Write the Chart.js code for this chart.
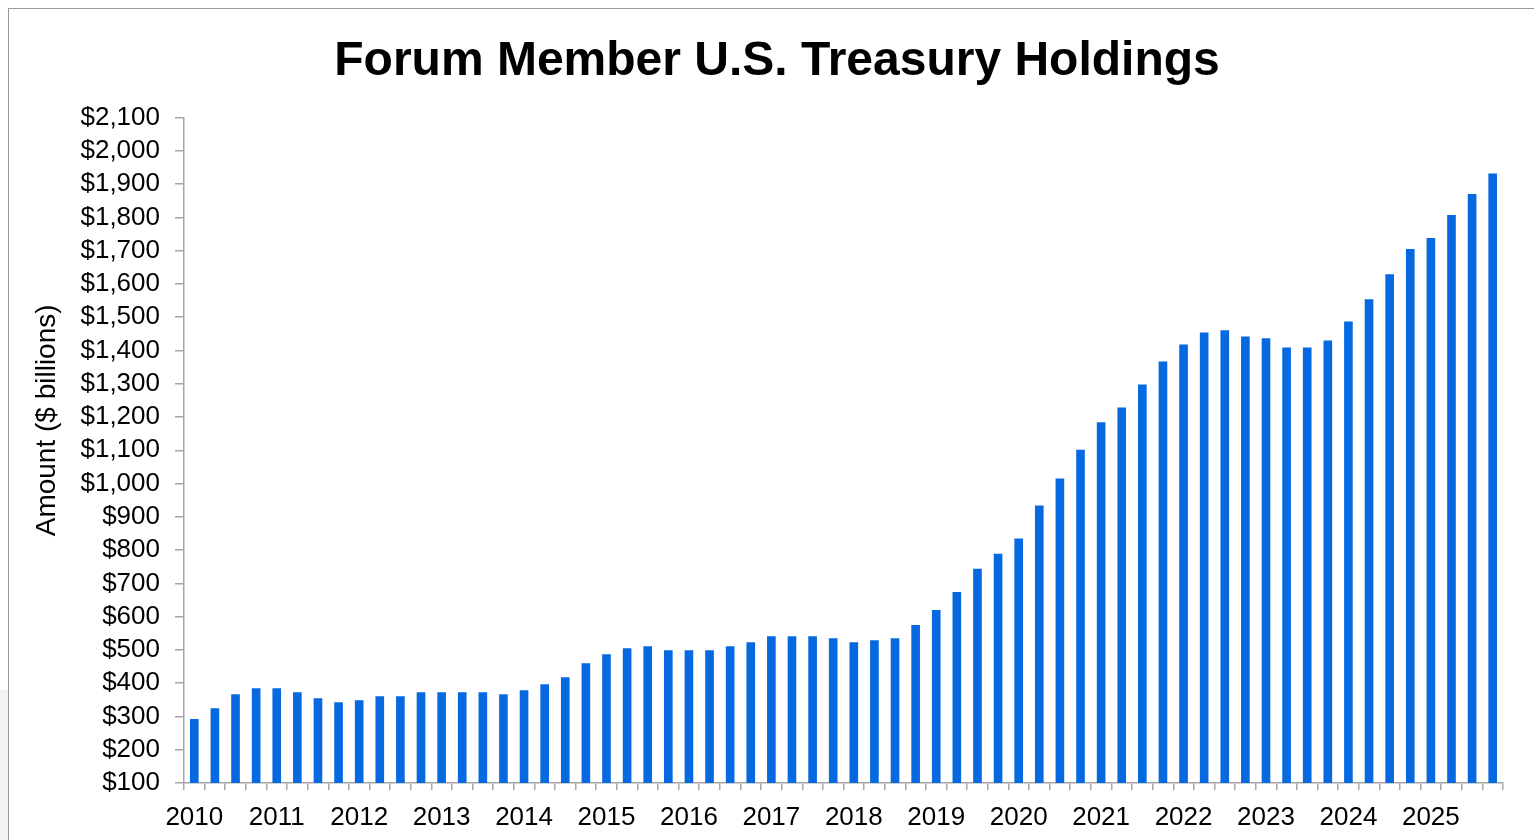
<!DOCTYPE html>
<html><head><meta charset="utf-8">
<script src="https://cdn.jsdelivr.net/npm/chart.js@4.4.1/dist/chart.umd.min.js"></script>
<style>
html,body{margin:0;padding:0;background:#fff;}
#wrap{position:relative;width:1534px;height:840px;overflow:hidden;}
#frame{position:absolute;left:8px;top:8px;width:1600px;height:900px;border-left:1.5px solid #9a9a9a;border-top:1.5px solid #9a9a9a;pointer-events:none;}
#shade{position:absolute;left:0;top:690px;width:8px;height:150px;background:#f1f2f4;}
canvas{position:absolute;left:0;top:0;}
</style></head><body>
<div id="wrap"><div id="shade"></div><canvas id="c" width="1534" height="840"></canvas><div id="frame"></div></div>
<script>
const chartTitle = 'Forum Member U.S. Treasury Holdings';
const yAxisTitle = 'Amount ($ billions)';
const years = ['2010','2011','2012','2013','2014','2015','2016','2017','2018','2019','2020','2021','2022','2023','2024','2025'];
const quarters = ['Q1','Q2','Q3','Q4'];
// Holdings, $ billions, quarterly 2010 Q1 .. 2025 Q4
const holdings = [
  292, 325, 367, 385,
  385, 373, 355, 343,
  349, 361, 361, 373,
  373, 373, 373, 367,
  379, 397, 418, 460,
  487, 505, 511, 499,
  499, 499, 511, 523,
  541, 541, 541, 535,
  523, 529, 535, 575,
  620, 674, 744, 789,
  835, 934, 1015, 1102,
  1184, 1229, 1298, 1367,
  1418, 1454, 1461, 1442,
  1437, 1409, 1409, 1430,
  1487, 1554, 1629, 1705,
  1738, 1807, 1870, 1932
];
const yMin = 100, yMax = 2100, yStep = 100;

const categories = [];
years.forEach(y => quarters.forEach(q => categories.push(y + ' ' + q)));

const FONT = '"Liberation Sans", Arial, Helvetica, sans-serif';
Chart.defaults.font.family = FONT;
Chart.defaults.color = '#000';

const yTitlePlugin = {
  id: 'yTitle',
  afterDraw(chart) {
    const { ctx, chartArea } = chart;
    ctx.save();
    ctx.translate(47, chartArea.top + (chartArea.bottom - chartArea.top) * 0.455);
    ctx.rotate(-Math.PI / 2);
    ctx.font = '28px ' + FONT;
    ctx.fillStyle = '#000';
    ctx.textAlign = 'center';
    ctx.textBaseline = 'middle';
    ctx.fillText(yAxisTitle, 0, 0);
    ctx.restore();
  }
};

new Chart(document.getElementById('c'), {
  type: 'bar',
  data: {
    labels: categories,
    datasets: [{
      data: holdings,
      backgroundColor: '#0669e0',
      borderWidth: 0,
      barPercentage: 0.42,
      categoryPercentage: 1.0
    }]
  },
  options: {
    responsive: false,
    animation: false,
    layout: { padding: { left: 51, right: 31, top: 0, bottom: 0 } },
    plugins: {
      legend: { display: false },
      tooltip: { enabled: false },
      title: {
        display: true,
        text: chartTitle,
        color: '#000',
        font: { size: 48, weight: 'bold', family: FONT },
        padding: { top: 33, bottom: 27 }
      }
    },
    scales: {
      x: {
        offset: true,
        grid: { display: true, drawOnChartArea: false, drawTicks: true, tickLength: 7, color: '#a6a6a6', lineWidth: 1.5, offset: true },
        border: { display: true, color: '#a6a6a6', width: 1.5 },
        ticks: {
          autoSkip: false, maxRotation: 0, minRotation: 0, padding: 12, color: '#000',
          font: { size: 26 },
          callback: (v, i) => (i % 4 === 0 ? years[i / 4] : '')
        },
        afterFit: s => { s.height = 57; }
      },
      y: {
        min: yMin, max: yMax,
        ticks: {
          autoSkip: false,
          stepSize: yStep, padding: 15, color: '#000', font: { size: 26 },
          callback: v => '$' + Number(v).toLocaleString('en-US')
        },
        grid: { display: true, drawOnChartArea: false, drawTicks: true, tickLength: 9, color: '#a6a6a6', lineWidth: 1.5 },
        border: { display: true, color: '#a6a6a6', width: 1.5 },
        afterFit: s => { s.width = 133; }
      }
    }
  },
  plugins: [yTitlePlugin]
});
</script>
</body></html>
